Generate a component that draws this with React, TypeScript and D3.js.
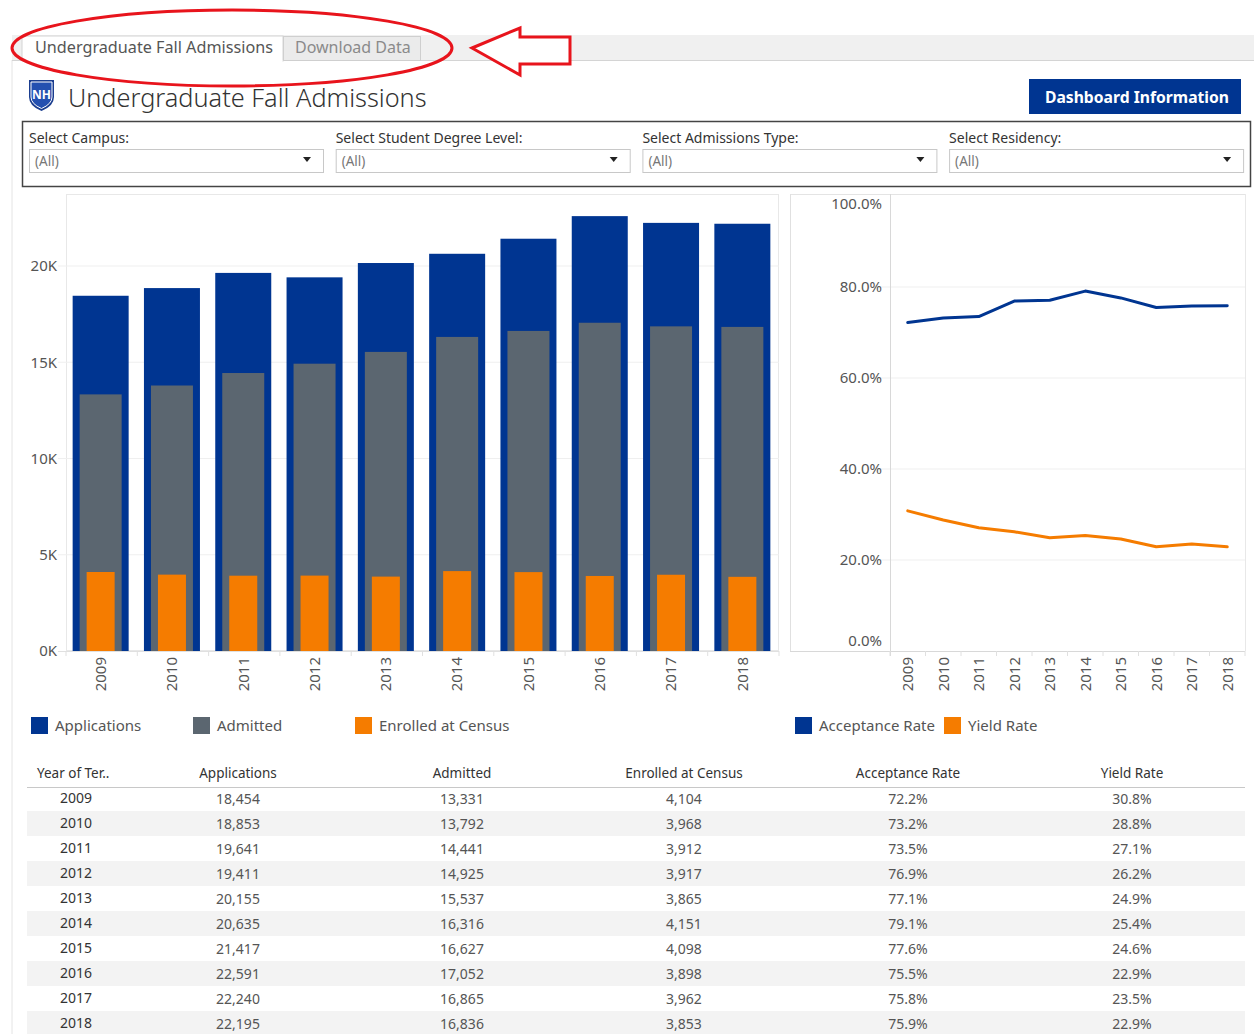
import React from "react";
import * as d3 from "d3";

const years = ["2009", "2010", "2011", "2012", "2013", "2014", "2015", "2016", "2017", "2018"];
const applications = [18454, 18853, 19641, 19411, 20155, 20635, 21417, 22591, 22240, 22195];
const admitted = [13331, 13792, 14441, 14925, 15537, 16316, 16627, 17052, 16865, 16836];
const enrolled = [4104, 3968, 3912, 3917, 3865, 4151, 4098, 3898, 3962, 3853];
const acceptanceRate = [72.2, 73.2, 73.5, 76.9, 77.1, 79.1, 77.6, 75.5, 75.8, 75.9];
const yieldRate = [30.8, 28.8, 27.1, 26.2, 24.9, 25.4, 24.6, 22.9, 23.5, 22.9];
const countTicks = [0, 5000, 10000, 15000, 20000];
const rateTicks = [0, 20, 40, 60, 80, 100];
const filters = ["Select Campus:", "Select Student Degree Level:", "Select Admissions Type:", "Select Residency:"];
const tableHeaders = ["Year of Ter..", "Applications", "Admitted", "Enrolled at Census", "Acceptance Rate", "Yield Rate"];

const BLUE = "#003591";
const GRAY = "#5b6670";
const ORANGE = "#f57c00";
const FONT = "'Noto Sans', sans-serif";
const TXT = "#555";

export default function App() {
  // left chart
  const xL = d3.scaleBand<string>().domain(years).range([66, 779]);
  const yL = d3.scaleLinear().domain([0, 20000]).range([651, 266]);
  const bwApp = 56, bwAdm = 42, bwEnr = 28;
  const stepL = xL.step();
  const cxL = (i: number) => (xL(years[i]) as number) + stepL / 2 - 1;

  // right chart
  const xR = d3.scaleBand<string>().domain(years).range([890, 1245]);
  const stepR = xR.step();
  const cxR = (i: number) => (xR(years[i]) as number) + stepR / 2;
  const yR = d3.scaleLinear().domain([0, 100]).range([651, 196]);
  const line = d3.line<number>().x((_, i) => cxR(i)).y((d) => yR(d));

  const fmt = d3.format(",");
  const pct = (v: number) => v.toFixed(1) + "%";
  const colX = [37, 238, 462, 684, 908, 1132];

  return (
    <svg width={1254} height={1034} style={{ position: "absolute", left: 0, top: 0, background: "#fff" }} fontFamily={FONT}>
      {/* page border */}
      <line x1={12} x2={12} y1={60} y2={1034} stroke="#e4e4e4" />
      {/* tab bar */}
      <rect x={12} y={35} width={1242} height={25} fill="#f0f0f0" />
      <line x1={12} x2={1254} y1={60.5} y2={60.5} stroke="#d4d4d4" />
      <rect x={22} y={36} width={261} height={25} fill="#fff" stroke="#d4d4d4" />
      <rect x={22.5} y={60} width={260} height={2} fill="#fff" />
      <rect x={283.5} y={36.5} width={137} height={24} fill="#ebebeb" stroke="#cfcfcf" />
      <text x={35} y={53} fontSize={16.2} fill="#555">Undergraduate Fall Admissions</text>
      <text x={295} y={53} fontSize={16} fill="#8a8a8a">Download Data</text>
      {/* annotation */}
      <ellipse cx={232} cy={48} rx={220} ry={38} fill="none" stroke="#e8141c" strokeWidth={3} />
      <path d="M472,48 L520,28 L520,37 L570,37 L570,64 L520,64 L520,75 Z" fill="#fff" stroke="#e8141c" strokeWidth={3} strokeLinejoin="miter" />

      {/* logo */}
      <path d="M29,80 L54,80 L54,97 Q54,106 41.5,111 Q29,106 29,97 Z" fill="#1a3d8f" />
      <path d="M31,82 L52,82 L52,97 Q52,104 41.5,108.5 Q31,104 31,97 Z" fill="#2450b0" stroke="#fff" strokeWidth={1} />
      <text x={41.5} y={99} fontSize={12} fontWeight="bold" fill="#fff" textAnchor="middle">NH</text>
      <text x={68} y={107} fontSize={25.3} fill="#333" fontWeight={300}>Undergraduate Fall Admissions</text>

      {/* button */}
      <rect x={1029} y={79} width={212} height={35} fill="#003591" />
      <text x={1137} y={103} fontSize={15.7} fontWeight="bold" fill="#fff" textAnchor="middle">Dashboard Information</text>

      {/* filters */}
      <rect x={22.5} y={121.5} width={1228} height={65} fill="#fff" stroke="#444" strokeWidth={1.5} />
      {filters.map((f, i) => {
        const x = 29 + i * 306.7;
        return (
          <g key={f}>
            <text x={x} y={143} fontSize={14} fill="#333">{f}</text>
            <rect x={x + 0.5} y={149.5} width={294} height={23} fill="#fff" stroke="#c8c8c8" />
            <text x={x + 6} y={166} fontSize={13.5} fill="#777">(All)</text>
            <path d={`M${x + 274},${157} l8,0 l-4,5 z`} fill="#222" />
          </g>
        );
      })}

      {/* left chart frame */}
      <rect x={66.5} y={194.5} width={712} height={456} fill="none" stroke="#e8e8e8" />
      {countTicks.map((t) => (
        <g key={t}>
          {t > 0 && <line x1={58} x2={779} y1={yL(t)} y2={yL(t)} stroke="#efefef" />}
          <text x={57} y={yL(t)} dy="0.35em" fontSize={15} fill={TXT} textAnchor="end">{t / 1000 + "K"}</text>
        </g>
      ))}
      {years.map((yr, i) => (
        <g key={yr}>
          <rect x={cxL(i) - bwApp / 2} y={yL(applications[i])} width={bwApp} height={yL(0) - yL(applications[i])} fill={BLUE} />
          <rect x={cxL(i) - bwAdm / 2} y={yL(admitted[i])} width={bwAdm} height={yL(0) - yL(admitted[i])} fill={GRAY} />
          <rect x={cxL(i) - bwEnr / 2} y={yL(enrolled[i])} width={bwEnr} height={yL(0) - yL(enrolled[i])} fill={ORANGE} />
          <text transform={`translate(${cxL(i)},657) rotate(-90)`} dy="0.35em" fontSize={15} fill={TXT} textAnchor="end">{yr}</text>
        </g>
      ))}
      <line x1={58} x2={779} y1={651.5} y2={651.5} stroke="#e0e0e0" />
      {d3.range(years.length + 1).map((i) => (
        <line key={i} x1={66 + stepL * i} x2={66 + stepL * i} y1={651} y2={656} stroke="#e0e0e0" />
      ))}

      {/* right chart frame */}
      <line x1={790} x2={1245} y1={194.5} y2={194.5} stroke="#e4e4e4" />
      <line x1={790.5} x2={790.5} y1={194} y2={651} stroke="#e0e0e0" />
      <line x1={1245.5} x2={1245.5} y1={194} y2={651} stroke="#e8e8e8" />
      {rateTicks.map((t) => (
        <g key={t}>
          {t > 0 && t < 100 && <line x1={880} x2={1245} y1={yR(t)} y2={yR(t)} stroke="#efefef" />}
          <text x={882} y={t === 100 ? yR(t) + 8 : t === 0 ? yR(t) - 10 : yR(t)} dy="0.35em" fontSize={15} fill={TXT} textAnchor="end">{t.toFixed(1) + "%"}</text>
        </g>
      ))}
      <line x1={890.5} x2={890.5} y1={194} y2={656} stroke="#d8d8d8" />
      <line x1={790} x2={1245} y1={651.5} y2={651.5} stroke="#d8d8d8" />
      {d3.range(years.length + 1).map((i) => (
        <line key={i} x1={890 + stepR * i} x2={890 + stepR * i} y1={651} y2={656} stroke="#e0e0e0" />
      ))}
      <path d={line(acceptanceRate) || ""} fill="none" stroke={BLUE} strokeWidth={3} strokeLinejoin="round" strokeLinecap="round" />
      <path d={line(yieldRate) || ""} fill="none" stroke={ORANGE} strokeWidth={3} strokeLinejoin="round" strokeLinecap="round" />
      {years.map((yr, i) => (
        <text key={yr} transform={`translate(${cxR(i)},657) rotate(-90)`} dy="0.35em" fontSize={15} fill={TXT} textAnchor="end">{yr}</text>
      ))}

      {/* legends */}
      {[
        { x: 31, c: BLUE, t: "Applications" },
        { x: 193, c: GRAY, t: "Admitted" },
        { x: 355, c: ORANGE, t: "Enrolled at Census" },
        { x: 795, c: BLUE, t: "Acceptance Rate" },
        { x: 944, c: ORANGE, t: "Yield Rate" },
      ].map((l) => (
        <g key={l.t + l.x}>
          <rect x={l.x} y={717} width={17} height={17} fill={l.c} />
          <text x={l.x + 24} y={731} fontSize={15} fill={TXT}>{l.t}</text>
        </g>
      ))}

      {/* table */}
      {tableHeaders.map((h, i) => (
        <text key={h} x={colX[i]} y={778} fontSize={13.5} fill="#333" textAnchor={i === 0 ? "start" : "middle"}>{h}</text>
      ))}
      {years.map((yr, i) => (
        <g key={yr}>
          {i % 2 === 1 && <rect x={27} y={786 + 25 * i} width={1218} height={25} fill="#f3f3f3" />}
        </g>
      ))}
      <line x1={27} x2={1245} y1={787.5} y2={787.5} stroke="#c8c8c8" />
      {years.map((yr, i) => {
        const cy = 798.5 + 25 * i;
        const vals = [fmt(applications[i]), fmt(admitted[i]), fmt(enrolled[i]), pct(acceptanceRate[i]), pct(yieldRate[i])];
        return (
          <g key={yr}>
            <text x={60} y={cy} dy="0.35em" fontSize={14} fill="#333">{yr}</text>
            {vals.map((v, j) => (
              <text key={j} x={colX[j + 1]} y={cy + 1} dy="0.35em" fontSize={14} fill="#555" textAnchor="middle">{v}</text>
            ))}
          </g>
        );
      })}
    </svg>
  );
}
